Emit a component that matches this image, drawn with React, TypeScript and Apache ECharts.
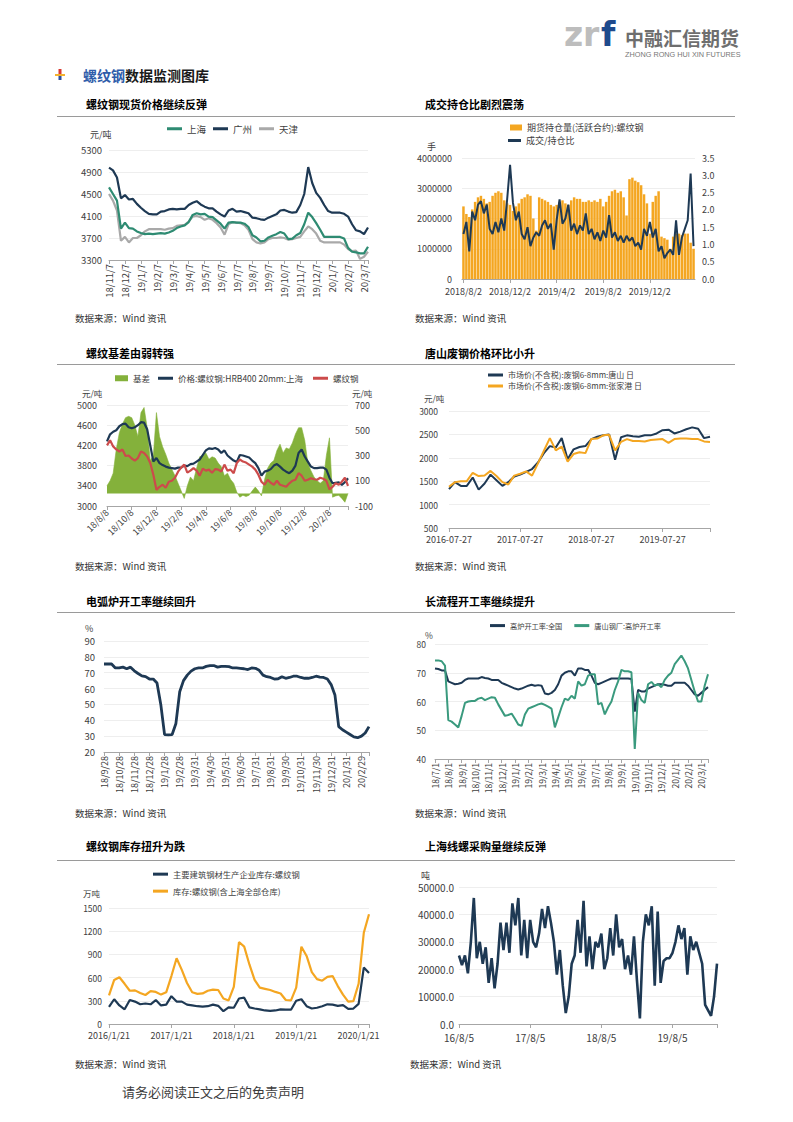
import React, { useEffect, useRef } from 'react';
import * as echarts from 'echarts';

const FONT = "'Noto Sans CJK SC', 'Noto Sans', sans-serif";
const NAVY = '#1E3954';
const GREEN = '#2E8B72';
const GREEN2 = '#3A9A7E';
const GRAY = '#A9A9A9';
const ORANGE = '#F4A621';
const RED = '#CC4B4B';
const AREA_GREEN = '#84B13B';
const AXIS = '#A6A6A6';
const SPLIT = '#EEEEEE';
const LABEL = '#404040';

// ---------- Chart 1: 螺纹钢现货价格 ----------
const c1Labels = ['18/11/7', '18/12/7', '19/1/7', '19/2/7', '19/3/7', '19/4/7', '19/5/7', '19/6/7', '19/7/7', '19/8/7', '19/9/7', '19/10/7', '19/11/7', '19/12/7', '20/1/7', '20/2/7', '20/3/7'];
const c1Shanghai = [4620, 4500, 4380, 3870, 3980, 3880, 3870, 3820, 3790, 3770, 3780, 3770, 3780, 3790, 3780, 3800, 3830, 3880, 3910, 3930, 3990, 4120, 4150, 4130, 4140, 4090, 4080, 4020, 3960, 3870, 3980, 3990, 3980, 3980, 3960, 3900, 3750, 3710, 3640, 3650, 3710, 3740, 3770, 3810, 3780, 3680, 3690, 3750, 3790, 3950, 4160, 4080, 3970, 3850, 3720, 3720, 3720, 3720, 3720, 3690, 3520, 3450, 3440, 3420, 3420, 3540];
const c1Guangzhou = [4980, 4930, 4800, 4420, 4480, 4400, 4410, 4320, 4250, 4190, 4140, 4130, 4130, 4180, 4190, 4220, 4230, 4220, 4230, 4230, 4300, 4340, 4370, 4310, 4270, 4240, 4240, 4180, 4130, 4090, 4200, 4230, 4180, 4190, 4170, 4150, 4070, 4060, 4040, 4030, 4070, 4100, 4130, 4200, 4210, 4180, 4160, 4170, 4300, 4500, 4990, 4700, 4520, 4430, 4300, 4190, 4160, 4160, 4160, 4140, 4090, 3950, 3840, 3820, 3770, 3890];
const c1Tianjin = [4500, 4380, 4200, 3650, 3720, 3620, 3700, 3700, 3750, 3820, 3860, 3860, 3860, 3860, 3850, 3870, 3880, 3920, 3930, 3940, 4000, 4090, 4100, 4080, 4030, 4060, 4030, 3970, 3890, 3760, 3950, 3990, 3980, 3970, 3930, 3850, 3680, 3620, 3600, 3620, 3680, 3700, 3700, 3710, 3700, 3670, 3680, 3700, 3720, 3820, 3910, 3860, 3780, 3650, 3620, 3620, 3620, 3620, 3620, 3580, 3500, 3460, 3470, 3320, 3360, 3450];

// ---------- Chart 2: 成交持仓比 ----------
const c2Labels = ['2018/8/2', '2018/12/2', '2019/4/2', '2019/8/2', '2019/12/2'];
const c2OI = [2400000, 2150000, 2050000, 2300000, 2550000, 2700000, 2750000, 2650000, 2500000, 2550000, 2750000, 2850000, 2900000, 2850000, 2600000, 2500000, 2450000, 2250000, 2400000, 2500000, 2650000, 2700000, 2800000, 2750000, 2000000, 1600000, 2700000, 2650000, 2600000, 2550000, 2450000, 2400000, 2450000, 2550000, 2600000, 2500000, 2450000, 2600000, 2700000, 2650000, 2650000, 2550000, 2550000, 2600000, 2550000, 2600000, 2550000, 2650000, 2400000, 2550000, 2750000, 2900000, 2950000, 2850000, 2900000, 2700000, 2100000, 3300000, 3350000, 3250000, 3200000, 3100000, 2800000, 2500000, 1500000, 2550000, 2750000, 2900000, 1400000, 1350000, 1300000, 1000000, 1400000, 1500000, 1500000, 1450000, 1500000, 1500000, 1200000, 1000000];
const c2Ratio = [1.30, 1.65, 0.80, 1.95, 1.70, 2.15, 2.25, 1.90, 2.15, 1.45, 1.30, 1.65, 1.35, 1.75, 1.40, 2.30, 3.30, 2.20, 1.70, 1.95, 1.30, 1.15, 1.50, 0.95, 1.20, 1.35, 1.25, 1.55, 1.70, 1.45, 1.60, 0.85, 1.70, 2.30, 1.60, 1.75, 2.15, 1.40, 1.60, 1.30, 1.55, 1.40, 1.90, 1.30, 1.45, 1.15, 1.35, 1.10, 1.40, 1.20, 1.85, 1.20, 1.35, 1.10, 1.25, 1.05, 1.25, 1.10, 1.20, 0.95, 1.05, 0.85, 1.45, 1.25, 1.65, 1.20, 1.45, 0.80, 0.95, 0.60, 0.75, 0.85, 0.70, 1.70, 0.70, 1.20, 1.45, 1.70, 3.05, 0.95];

// ---------- Chart 3: 螺纹基差 ----------
const c3Labels = ['18/8/8', '18/10/8', '18/12/8', '19/2/8', '19/4/8', '19/6/8', '19/8/8', '19/10/8', '19/12/8', '20/2/8'];
const c3Spot = [4280, 4420, 4470, 4500, 4580, 4620, 4630, 4560, 4540, 4560, 4600, 4660, 4650, 4520, 4200, 3880, 3950, 3850, 3810, 3780, 3760, 3750, 3740, 3760, 3760, 3800, 3790, 3830, 3840, 3880, 3920, 4010, 4100, 4140, 4130, 4150, 4120, 4050, 4100, 4000, 3950, 3900, 3870, 4010, 4000, 3980, 3960, 3900, 3850, 3750, 3600, 3680, 3700, 3730, 3800, 3830, 3780, 3720, 3680, 3650, 3700, 3800, 4050, 4120, 3980, 3880, 3780, 3750, 3750, 3760, 3760, 3720, 3560, 3450, 3460, 3470, 3420, 3470, 3550];
const c3Fut = [4200, 4300, 4180, 4120, 4080, 4120, 3990, 4000, 3940, 3900, 3950, 4080, 4050, 3980, 3850, 3620, 3320, 3380, 3420, 3360, 3480, 3500, 3560, 3680, 3760, 3820, 3660, 3700, 3750, 3700, 3600, 3740, 3700, 3720, 3660, 3730, 3720, 3680, 3820, 3700, 3720, 3650, 3850, 3920, 3880, 3860, 3820, 3780, 3720, 3620, 3480, 3420, 3520, 3460, 3420, 3500, 3420, 3400, 3380, 3450, 3500, 3520, 3650, 3600, 3500, 3520, 3550, 3530, 3520, 3560, 3540, 3500, 3330, 3380, 3450, 3420, 3480, 3560, 3400];
const c3Basis = [60, 100, 160, 350, 480, 550, 600, 610, 600, 540, 450, 640, 680, 520, 260, 300, 640, 450, 370, 310, 240, 190, 140, 80, 20, -40, 60, 130, 100, 200, 290, 300, 320, 270, 290, 280, 240, 210, 140, 160, 110, 80, 10, -30, -15, -25, -15, 20, 50, 20, -20, 110, 200, 240, 260, 340, 390, 320, 360, 350, 400, 470, 520, 520, 420, 240, 180, 130, 100, 80, 100, 300, 440, -30, -20, -15, -40, -70, 0];

// ---------- Chart 4: 唐山废钢 ----------
const c4Labels = ['2016-07-27', '2017-07-27', '2018-07-27', '2019-07-27'];
const c4Tangshan = [1330, 1480, 1400, 1400, 1580, 1320, 1450, 1640, 1520, 1400, 1480, 1600, 1640, 1700, 1760, 1900, 2100, 2250, 2220, 2420, 1970, 2180, 2230, 2250, 2400, 2450, 2480, 2500, 1960, 2440, 2480, 2460, 2450, 2480, 2480, 2520, 2590, 2600, 2520, 2560, 2610, 2650, 2620, 2420, 2450];
const c4Zjg = [1380, 1480, 1500, 1500, 1680, 1610, 1620, 1720, 1610, 1480, 1430, 1620, 1660, 1710, 1620, 1880, 2150, 2420, 2160, 2240, 1920, 2080, 2120, 2100, 2400, 2410, 2480, 2490, 2160, 2340, 2400, 2360, 2360, 2350, 2380, 2390, 2400, 2320, 2400, 2410, 2410, 2400, 2400, 2350, 2340];

// ---------- Chart 5: 电弧炉开工率 ----------
const c5Labels = ['18/9/28', '18/10/28', '18/11/28', '18/12/28', '19/1/28', '19/2/28', '19/3/31', '19/4/30', '19/5/31', '19/6/30', '19/7/31', '19/8/31', '19/9/30', '19/10/31', '19/11/30', '19/12/31', '20/1/31', '20/2/29'];
const c5Eaf = [75.5, 75.5, 75.5, 73.0, 73.0, 73.5, 72.5, 73.5, 71.2, 69.5, 68.0, 67.5, 66.0, 66.0, 63.5, 50.0, 31.0, 30.8, 31.0, 38.0, 58.0, 65.0, 68.5, 71.0, 72.5, 73.0, 73.0, 74.0, 74.5, 74.5, 73.5, 74.0, 74.0, 73.8, 73.0, 73.0, 72.8, 72.5, 72.0, 73.0, 72.8, 71.5, 68.5, 67.5, 67.0, 66.0, 66.2, 67.5, 66.5, 67.0, 67.8, 67.8, 67.0, 66.5, 66.5, 67.0, 67.8, 67.2, 67.0, 66.0, 62.5, 56.0, 36.0, 34.0, 32.5, 31.0, 29.5, 29.0, 30.0, 32.0, 36.0];

// ---------- Chart 6: 高炉开工率 ----------
const c6Labels = ['18/7/1', '18/8/1', '18/9/1', '18/10/1', '18/11/1', '18/12/1', '19/1/1', '19/2/1', '19/3/1', '19/4/1', '19/5/1', '19/6/1', '19/7/1', '19/8/1', '19/9/1', '19/10/1', '19/11/1', '19/12/1', '20/1/1', '20/2/1', '20/3/1'];
const c6National = [71.5, 71.3, 70.8, 70.8, 67.0, 66.5, 66.0, 66.2, 66.5, 67.5, 68.0, 68.0, 68.0, 68.0, 68.5, 68.2, 68.0, 67.5, 67.5, 67.5, 66.5, 66.0, 65.5, 65.0, 64.5, 64.2, 64.5, 65.0, 65.5, 65.8, 65.5, 65.7, 65.5, 62.8, 62.5, 63.0, 64.0, 66.0, 69.0, 70.0, 70.5, 70.5, 69.0, 71.5, 71.5, 71.0, 71.0, 69.0, 66.5, 66.0, 66.5, 67.0, 67.5, 68.0, 68.0, 68.0, 68.0, 68.0, 68.0, 67.8, 56.5, 64.0, 63.5, 63.5, 64.5, 65.0, 65.5, 66.0, 66.0, 65.8, 65.5, 65.5, 66.5, 66.5, 66.5, 66.5, 65.5, 64.0, 62.5, 62.0, 63.0, 64.0, 65.0];
const c6Tangshan = [74.3, 74.3, 74.0, 72.5, 53.5, 53.0, 52.0, 51.0, 55.0, 59.5, 60.0, 60.2, 60.2, 61.0, 61.3, 60.5, 61.0, 61.5, 61.3, 59.0, 57.0, 55.0, 55.3, 55.8, 54.0, 52.0, 51.5, 55.5, 57.5, 58.0, 58.5, 59.0, 59.3, 58.8, 58.2, 57.5, 51.0, 54.5, 58.0, 61.0, 60.5, 62.0, 61.0, 67.0, 65.5, 66.0, 69.0, 69.5, 69.5, 59.0, 59.5, 55.5, 58.0, 60.0, 64.0, 67.0, 71.0, 70.5, 70.5, 70.2, 43.5, 63.0, 60.5, 59.5, 66.0, 66.8, 65.5, 66.0, 65.0, 67.5, 69.0, 70.0, 73.0, 74.5, 76.0, 74.0, 71.5, 67.5, 63.5, 60.0, 60.0, 65.5, 69.5];

// ---------- Chart 7: 螺纹钢库存 ----------
const c7Labels = ['2016/1/21', '2017/1/21', '2018/1/21', '2019/1/21', '2020/1/21'];
const c7Mills = [220, 320, 240, 190, 310, 290, 255, 265, 255, 310, 240, 250, 360, 290, 290, 250, 240, 230, 225, 230, 250, 235, 165, 215, 210, 330, 340, 215, 200, 190, 175, 170, 175, 190, 185, 185, 300, 320, 230, 200, 210, 230, 255, 250, 235, 245, 195, 200, 260, 730, 660];
const c7Total = [370, 570, 605, 520, 430, 435, 400, 375, 425, 415, 380, 410, 620, 850, 700, 530, 410, 390, 395, 430, 445, 440, 330, 305, 480, 1060, 1000, 770, 570, 470, 455, 440, 415, 395, 310, 305, 470, 1000, 880, 670, 580, 560, 610, 620, 490, 380, 290, 295, 520, 1180, 1420];

// ---------- Chart 8: 上海线螺采购量 ----------
const c8Labels = ['16/8/5', '17/8/5', '18/8/5', '19/8/5'];
const c8Purchase = [25000, 21500, 25000, 18500, 30000, 46000, 24000, 30000, 22000, 28000, 15000, 24000, 13000, 22000, 37000, 27000, 37000, 26000, 44000, 36000, 46000, 25000, 38000, 24000, 38000, 30000, 28000, 33000, 42000, 35000, 43000, 37000, 30000, 18000, 27000, 14000, 4000, 10000, 22000, 25000, 38000, 26000, 45000, 21000, 32000, 20000, 30000, 28000, 33000, 20000, 24000, 35000, 25000, 40000, 28000, 31000, 20000, 25000, 18000, 32000, 16000, 2000, 30000, 40000, 36000, 43000, 14000, 41000, 15000, 23000, 24000, 24000, 26000, 30000, 36000, 31000, 35000, 18000, 32000, 27000, 30000, 26000, 22000, 7000, 5000, 3000, 10000, 22000];

const sources = '数据来源：Wind 资讯';

const idx = (arr: number[], off = 0) => arr.map((v, i) => [i, v - off]);

function xValue(gridIndex: number, max: number, interval: number, labels: string[], fontSize: number, rotate = 0, margin = 6) {
  return {
    type: 'value', gridIndex, min: 0, max, interval,
    axisLine: { show: true, onZero: false, lineStyle: { color: AXIS, width: 1 } },
    axisTick: { show: true, length: 4, lineStyle: { color: AXIS } },
    splitLine: { show: false },
    axisLabel: {
      show: true, rotate, margin, color: LABEL, fontSize, fontFamily: FONT,
      formatter: (v: number) => {
        const k = Math.round(v / interval);
        return Math.abs(k * interval - v) < 1e-6 && labels[k] !== undefined ? labels[k] : '';
      },
    },
  };
}

function yValue(gridIndex: number, min: number, max: number, interval: number, fmt: (v: number) => string, fontSize: number, margin: number, position = 'left', split = true) {
  return {
    type: 'value', gridIndex, min, max, interval, position,
    axisLine: { show: false }, axisTick: { show: false },
    splitLine: { show: split, lineStyle: { color: SPLIT, width: 1 } },
    axisLabel: { color: LABEL, fontSize, fontFamily: FONT, margin, formatter: fmt },
  };
}

function lineS(name: string, data: any[], xi: number, yi: number, color: string, width: number) {
  return {
    type: 'line', name, data, xAxisIndex: xi, yAxisIndex: yi, showSymbol: false, symbol: 'none',
    color, lineStyle: { color, width }, silent: true,
  };
}

function txt(text: string, x: number, y: number, fontSize: number, fill = LABEL, fontWeight = 'normal', extra: any = {}) {
  return {
    type: 'text', x, y, silent: true,
    style: { text, fill, fontSize, fontWeight, fontFamily: FONT, textAlign: 'left', textVerticalAlign: 'middle', ...extra },
  };
}

function hline(x1: number, x2: number, y: number) {
  return { type: 'line', silent: true, shape: { x1, y1: y, x2, y2: y }, style: { stroke: '#9A9A9A', lineWidth: 1 } };
}

const legendBase = (fontSize: number) => ({
  padding: 0, icon: 'rect', itemWidth: 15, itemHeight: 3, itemGap: 8, selectedMode: false,
  textStyle: { color: LABEL, fontSize, fontFamily: FONT },
});

const N2A = '期货持仓量(活跃合约):螺纹钢';
const N2B = '成交/持仓比';
const N3A = '基差';
const N3B = '价格:螺纹钢:HRB400 20mm:上海';
const N3C = '螺纹钢';
const N4A = '市场价(不含税):废钢6-8mm:唐山 日';
const N4B = '市场价(不含税):废钢6-8mm:张家港 日';
const N6A = '高炉开工率:全国';
const N6B = '唐山钢厂:高炉开工率';
const N7A = '主要建筑钢材生产企业库存:螺纹钢';
const N7B = '库存:螺纹钢(含上海全部仓库)';

function buildOption() {
  const grid = [
    { left: 109, top: 150, width: 259, height: 110 },
    { left: 462, top: 158, width: 233, height: 121 },
    { left: 107, top: 405, width: 241, height: 101 },
    { left: 449, top: 411, width: 261, height: 117 },
    { left: 104, top: 641, width: 265, height: 111 },
    { left: 435, top: 644, width: 273, height: 115 },
    { left: 109, top: 908, width: 260, height: 116 },
    { left: 459, top: 887, width: 258, height: 137 },
  ];

  const c2Cats = c2OI.map((_, i) => String(i));
  const xAxis: any[] = [
    xValue(0, c1Shanghai.length - 1, 4, c1Labels, 9.5, 90, 4),
    {
      type: 'category', gridIndex: 1, data: c2Cats, boundaryGap: true,
      axisLine: { show: true, onZero: false, lineStyle: { color: AXIS } },
      axisTick: { show: true, alignWithLabel: true, length: 4, interval: (i: number) => i % 16 === 0, lineStyle: { color: AXIS } },
      axisLabel: {
        interval: (i: number) => i % 16 === 0, color: LABEL, fontSize: 9, fontFamily: FONT, margin: 8,
        formatter: (_v: string, i: number) => c2Labels[Math.round(i / 16)] ?? '',
      },
      splitLine: { show: false },
    },
    xValue(2, c3Spot.length - 1, 8, c3Labels, 9, 45, 5),
    xValue(3, c4Tangshan.length - 1, 12, c4Labels, 9, 0, 7),
    xValue(4, c5Eaf.length - 1, 4, c5Labels, 9, 90, 4),
    xValue(5, c6National.length - 1, 4, c6Labels, 8.5, 90, 4),
    xValue(6, c7Total.length - 1, 12, c7Labels, 9, 0, 7),
    xValue(7, c8Purchase.length - 1, 24, c8Labels, 10, 0, 8),
  ];

  const yAxis: any[] = [
    yValue(0, 0, 2000, 400, (v) => String(v + 3300), 9.5, 7),
    yValue(1, 0, 4000000, 1000000, (v) => String(v), 9, 10),
    yValue(1, 0, 3.5, 0.5, (v) => v.toFixed(1), 9, 7, 'right', false),
    yValue(2, 0, 2000, 400, (v) => String(v + 3000), 9, 10),
    yValue(2, 0, 800, 200, (v) => String(v - 100), 9, 7, 'right', false),
    yValue(3, 500, 3000, 500, (v) => String(v), 8.5, 11),
    yValue(4, 20, 90, 10, (v) => String(v), 9.5, 9),
    yValue(5, 40, 80, 10, (v) => String(v), 8.5, 9),
    yValue(6, 0, 1500, 300, (v) => String(v), 8.5, 7),
    yValue(7, 0, 50000, 10000, (v) => v.toFixed(1), 10, 5),
  ];

  const series: any[] = [
    lineS('天津', idx(c1Tianjin, 3300), 0, 0, GRAY, 2.2),
    lineS('上海', idx(c1Shanghai, 3300), 0, 0, GREEN, 2.2),
    lineS('广州', idx(c1Guangzhou, 3300), 0, 0, NAVY, 2.2),

    { type: 'bar', name: N2A, data: c2OI, xAxisIndex: 1, yAxisIndex: 1, barCategoryGap: '15%', color: ORANGE, itemStyle: { color: ORANGE }, silent: true },
    lineS(N2B, c2Ratio.map((v, i) => [String(i), v]), 1, 2, NAVY, 2),

    {
      ...lineS(N3A, idx(c3Basis, -100), 2, 4, AREA_GREEN, 0.6),
      areaStyle: { color: AREA_GREEN, opacity: 1, origin: 100 },
    },
    lineS(N3B, idx(c3Spot, 3000), 2, 3, NAVY, 2.2),
    lineS(N3C, idx(c3Fut, 3000), 2, 3, RED, 2.2),

    lineS(N4A, idx(c4Tangshan), 3, 5, NAVY, 2),
    lineS(N4B, idx(c4Zjg), 3, 5, ORANGE, 2),

    lineS('电弧炉开工率', idx(c5Eaf), 4, 6, NAVY, 2.8),

    lineS(N6A, idx(c6National), 5, 7, NAVY, 2),
    lineS(N6B, idx(c6Tangshan), 5, 7, GREEN2, 2),

    lineS(N7A, idx(c7Mills), 6, 8, NAVY, 2.2),
    lineS(N7B, idx(c7Total), 6, 8, ORANGE, 2.2),

    lineS('上海线螺采购量', idx(c8Purchase), 7, 9, NAVY, 2.6),
  ];

  const legend: any[] = [
    { ...legendBase(9.5), data: ['上海', '广州', '天津'], left: 167, top: 124, itemGap: 7 },
    { ...legendBase(9), data: [N2A], left: 510, top: 123, itemWidth: 12, itemHeight: 6 },
    { ...legendBase(9), data: [N2B], left: 508, top: 136, itemWidth: 13 },
    { ...legendBase(8.5), data: [N3A], left: 115, top: 374, itemWidth: 13, itemHeight: 6 },
    { ...legendBase(8.5), data: [N3B, N3C], left: 158, top: 374, itemGap: 10 },
    { ...legendBase(8), data: [N4A], left: 488, top: 371 },
    { ...legendBase(8), data: [N4B], left: 488, top: 382 },
    { ...legendBase(7.2), data: [N6A, N6B], left: 490, top: 622, itemGap: 12 },
    { ...legendBase(8.3), data: [N7A], left: 153, top: 870 },
    { ...legendBase(8.3), data: [N7B], left: 153, top: 887 },
  ];

  const graphic: any[] = [
    // logo
    txt('z', 564, 34, 33, '#BDBDBD', 'bold', { fontFamily: 'DejaVu Sans' }),
    txt('r', 583, 34, 33, '#BDBDBD', 'bold', { fontFamily: 'DejaVu Sans' }),
    txt('f', 601, 34, 33, '#1F4A8C', 'bold', { fontFamily: 'DejaVu Sans' }),
    txt('中融汇信期货', 625, 37, 19, '#6E6E6E', 'bold'),
    txt('ZHONG RONG HUI XIN FUTURES', 625, 54, 7.3, '#777777', 'normal', { fontFamily: 'Liberation Sans' }),
    // section icon
    { type: 'rect', silent: true, shape: { x: 58.5, y: 69, width: 3, height: 5 }, style: { fill: '#D9382F' } },
    { type: 'rect', silent: true, shape: { x: 55, y: 74, width: 10, height: 2 }, style: { fill: '#F2B12E' } },
    { type: 'rect', silent: true, shape: { x: 58.5, y: 76, width: 3, height: 4 }, style: { fill: '#2B4E9A' } },
    txt('螺纹钢', 83, 75, 14, '#2F5DAA', 'bold'),
    txt('数据监测图库', 125, 75, 14, '#1A1A1A', 'bold'),
    // chart titles
    txt('螺纹钢现货价格继续反弹', 86, 104, 11, '#000', 'bold'),
    txt('成交持仓比剧烈震荡', 425, 104, 11, '#000', 'bold'),
    txt('螺纹基差由弱转强', 86, 353, 11, '#000', 'bold'),
    txt('唐山废钢价格环比小升', 425, 353, 11, '#000', 'bold'),
    txt('电弧炉开工率继续回升', 86, 601, 11, '#000', 'bold'),
    txt('长流程开工率继续提升', 425, 601, 11, '#000', 'bold'),
    txt('螺纹钢库存扭升为跌', 86, 846, 11, '#000', 'bold'),
    txt('上海线螺采购量继续反弹', 425, 846, 11, '#000', 'bold'),
    hline(57, 735, 116.5),
    hline(57, 735, 364.5),
    hline(57, 735, 612.5),
    hline(57, 735, 860.5),
    // units
    txt('元/吨', 90, 134, 9, LABEL),
    txt('手', 427, 146, 9, LABEL),
    txt('元/吨', 82, 393, 8.5, LABEL),
    txt('元/吨', 352, 393, 8.5, LABEL),
    txt('元/吨', 424, 398, 8.5, LABEL),
    txt('%', 85, 628, 9, LABEL),
    txt('%', 425, 635, 8.5, LABEL),
    txt('万吨', 83, 893, 8.5, LABEL),
    txt('吨', 421, 875, 9, LABEL),
    // sources
    txt(sources, 75, 318, 9.5, '#333'),
    txt(sources, 415, 318, 9.5, '#333'),
    txt(sources, 75, 566, 9.5, '#333'),
    txt(sources, 415, 566, 9.5, '#333'),
    txt(sources, 75, 813, 9.5, '#333'),
    txt(sources, 415, 813, 9.5, '#333'),
    txt(sources, 75, 1064, 9.5, '#333'),
    txt(sources, 410, 1064, 9.5, '#333'),
    // footer
    txt('请务必阅读正文之后的免责声明', 122, 1091, 13, '#3C3C3C'),
  ];

  return {
    animation: false,
    backgroundColor: '#ffffff',
    textStyle: { fontFamily: FONT },
    grid, xAxis, yAxis, series, legend, graphic,
  };
}

export default function App() {
  const ref = useRef<HTMLDivElement>(null);
  useEffect(() => {
    if (!ref.current) return;
    const chart = echarts.init(ref.current, null, { renderer: 'svg' });
    chart.setOption(buildOption() as any);
    return () => chart.dispose();
  }, []);
  return (
    <div
      ref={ref}
      style={{ position: 'absolute', left: 0, top: 0, width: 793, height: 1122, background: '#fff' }}
    />
  );
}
